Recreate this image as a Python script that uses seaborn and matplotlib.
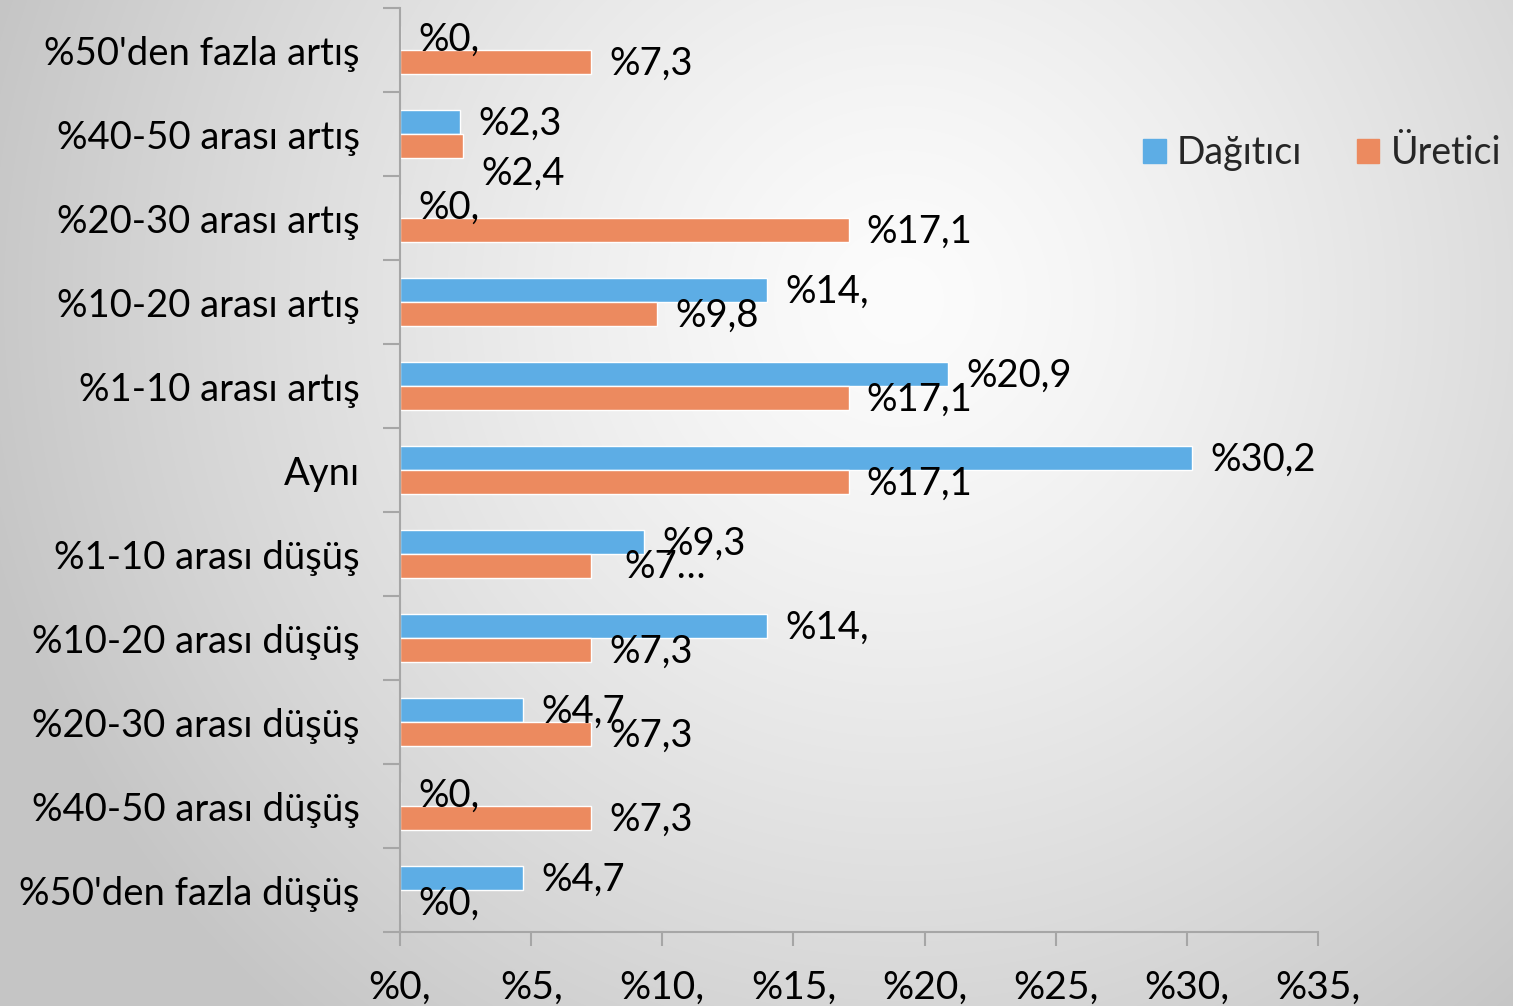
import numpy as np
import pandas as pd
import matplotlib
matplotlib.use("Agg")
import matplotlib.pyplot as plt
import seaborn as sns

categories = ["%50'den fazla artış", "%40-50 arası artış", "%20-30 arası artış",
              "%10-20 arası artış", "%1-10 arası artış", "Aynı",
              "%1-10 arası düşüş", "%10-20 arası düşüş", "%20-30 arası düşüş",
              "%40-50 arası düşüş", "%50'den fazla düşüş"]
series_names = ["Dağıtıcı", "Üretici"]
dagitici = [0, 2.3, 0, 14, 20.9, 30.2, 9.3, 14, 4.7, 0, 4.7]
uretici = [7.3, 2.4, 17.1, 9.8, 17.1, 17.1, 7.3, 7.3, 7.3, 7.3, 0]
x_ticks = [0, 5, 10, 15, 20, 25, 30, 35]
colors = ["#5DADE5", "#EC8A5F"]


def fmt(v):
    if float(v).is_integer():
        return f"%{int(v)},"
    return "%" + f"{v:.1f}".replace(".", ",")


df = pd.DataFrame({
    "kategori": categories * 2,
    "seri": [series_names[0]] * len(categories) + [series_names[1]] * len(categories),
    "deger": dagitici + uretici,
})

sns.set_theme(style="white")
plt.rcParams["font.family"] = ["Lato", "DejaVu Sans"]

W, H = 1513, 1006
fig = plt.figure(figsize=(W / 100, H / 100), dpi=100)

# background radial gradient
bg = fig.add_axes([0, 0, 1, 1], zorder=-10)
yy, xx = np.mgrid[0:H, 0:W]
d = np.sqrt((xx - 900.0) ** 2 + (yy - 300.0) ** 2) / 950.0
val = 252 - 55 * np.clip(d, 0, 1) ** 1.3
img = np.dstack([val, val, val]) / 255.0
bg.imshow(img, aspect="auto", extent=[0, 1, 0, 1])
bg.axis("off")

ax = fig.add_axes([400 / W, 1 - 932 / H, 918 / W, 924 / H])
ax.patch.set_alpha(0)
sns.barplot(data=df, y="kategori", x="deger", hue="seri", order=categories,
            hue_order=series_names, palette=colors, orient="h", width=0.57,
            ax=ax, saturation=1, legend=True)

ax.set_xlim(0, 35)
ax.set_ylim(len(categories) - 0.5, -0.5)
ax.set_xticks(x_ticks)
ax.set_xticklabels([fmt(t) for t in x_ticks])
ax.set_xlabel("")
ax.set_ylabel("")

for s in ["top", "right"]:
    ax.spines[s].set_visible(False)
for s in ["left", "bottom"]:
    ax.spines[s].set_color("#A6A6A6")
    ax.spines[s].set_linewidth(1.5)

ax.set_yticks(np.arange(-0.5, len(categories), 1.0), minor=True)
ax.tick_params(axis="y", which="major", length=0, pad=29, labelsize=27.5, labelcolor="black")
ax.tick_params(axis="y", which="minor", length=12, width=1.5, color="#A6A6A6", left=True)
ax.tick_params(axis="x", which="major", length=10, width=1.5, color="#A6A6A6", bottom=True,
               pad=17, labelsize=28, labelcolor="black")
for lab in ax.get_xticklabels():
    lab.set_family(["Liberation Sans Narrow", "Lato", "DejaVu Sans"])

# data labels
overrides = {(1, 1): ((13, -20), None), (1, 6): ((24, -1), "%7…")}
for si, cont in enumerate(ax.containers):
    vals = [dagitici, uretici][si]
    for ci, patch in enumerate(cont.patches):
        v = vals[ci]
        off, txt = overrides.get((si, ci), ((13, -1), None))
        if txt is None:
            txt = fmt(v)
        ax.annotate(txt, (patch.get_width(), patch.get_y() + patch.get_height() / 2),
                    xytext=off, textcoords="offset points", ha="left", va="center",
                    fontsize=27.5, color="black", annotation_clip=False)

ax.get_legend().remove()
handles = [plt.Rectangle((0, 0), 1, 1, color=c) for c in colors]
fig.legend(handles, series_names, loc="center", bbox_to_anchor=(1322 / W, 1 - 153 / H),
           ncol=2, frameon=False, fontsize=27, handlelength=0.6, handleheight=0.6,
           handletextpad=0.3, columnspacing=1.45, borderpad=0.1)

fig.savefig("out.png", dpi=100)
